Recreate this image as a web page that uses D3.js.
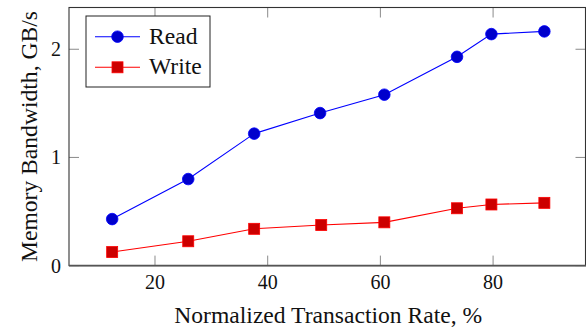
<!DOCTYPE html>
<html>
<head>
<meta charset="utf-8">
<script src="https://cdn.jsdelivr.net/npm/d3@7"></script>
<style>
  html, body { margin: 0; padding: 0; background: #fff; }
  svg { display: block; }
</style>
</head>
<body>
<svg id="chart" width="586" height="333" font-family="Liberation Serif"></svg>
<script>
// Transaction rate (% of max) and measured bandwidth (GB/s)
const rate = [12.4, 25.9, 37.6, 49.3, 60.7, 73.6, 79.7, 89.1];
const readBW = [0.43, 0.80, 1.22, 1.41, 1.58, 1.93, 2.14, 2.165];
const writeRate = [12.4, 25.9, 37.6, 49.5, 60.7, 73.6, 79.7, 89.1];
const writeBW = [0.125, 0.225, 0.34, 0.375, 0.40, 0.53, 0.565, 0.58];
const xTicks = [20, 40, 60, 80];
const yTicks = [0, 1, 2];
const seriesNames = ["Read", "Write"];

const FONT = "Liberation Serif";
const svg = d3.select("#chart");
const box = { left: 69, right: 585.5, top: 7.5, bottom: 265.6 };

const x = d3.scaleLinear().domain([4.74, 96.4]).range([box.left, box.right]);
const y = d3.scaleLinear().domain([0, 2.386]).range([box.bottom, box.top]);

const tickLen = 10;
const tickColor = "#8a8a8a";

// Inward ticks on all four sides
const g = svg.append("g");
xTicks.forEach(t => {
  g.append("line").attr("x1", x(t)).attr("x2", x(t))
    .attr("y1", box.bottom).attr("y2", box.bottom - tickLen)
    .attr("stroke", tickColor).attr("stroke-width", 1);
  g.append("line").attr("x1", x(t)).attr("x2", x(t))
    .attr("y1", box.top).attr("y2", box.top + tickLen)
    .attr("stroke", tickColor).attr("stroke-width", 1);
});
yTicks.forEach(t => {
  g.append("line").attr("x1", box.left).attr("x2", box.left + tickLen)
    .attr("y1", y(t)).attr("y2", y(t))
    .attr("stroke", tickColor).attr("stroke-width", 1);
  g.append("line").attr("x1", box.right - tickLen).attr("x2", box.right)
    .attr("y1", y(t)).attr("y2", y(t))
    .attr("stroke", tickColor).attr("stroke-width", 1);
});

// Frame
g.append("rect")
  .attr("x", box.left).attr("y", box.top)
  .attr("width", box.right - box.left).attr("height", box.bottom - box.top)
  .attr("fill", "none").attr("stroke", "#333").attr("stroke-width", 1.1);
g.append("line")
  .attr("x1", box.left).attr("x2", box.right + 1)
  .attr("y1", box.bottom).attr("y2", box.bottom)
  .attr("stroke", "#555").attr("stroke-width", 1.8);

// Tick labels
xTicks.forEach(t => {
  svg.append("text").attr("x", x(t)).attr("y", 288.7)
    .attr("font-family", FONT).attr("fill", "#111")
    .attr("text-anchor", "middle").attr("font-size", 20).text(t);
});
yTicks.forEach(t => {
  svg.append("text").attr("x", 61).attr("y", y(t) + 7)
    .attr("font-family", FONT).attr("fill", "#111")
    .attr("text-anchor", "end").attr("font-size", 20).text(t);
});

// Axis titles
svg.append("text").attr("x", (box.left + box.right) / 2 + 1).attr("y", 323)
  .attr("font-family", FONT).attr("fill", "#111")
  .attr("text-anchor", "middle").attr("font-size", 23.6)
  .text("Normalized Transaction Rate, %");
svg.append("text")
  .attr("transform", `translate(36.5, ${(box.top + box.bottom) / 2}) rotate(-90)`)
  .attr("font-family", FONT).attr("fill", "#111")
  .attr("text-anchor", "middle").attr("font-size", 23.6)
  .text("Memory Bandwidth, GB/s");

// Series
const line = d3.line().x(d => x(d[0])).y(d => y(d[1]));
const readPts = rate.map((r, i) => [r, readBW[i]]);
const writePts = writeRate.map((r, i) => [r, writeBW[i]]);

svg.append("path").datum(readPts).attr("d", line)
  .attr("fill", "none").attr("stroke", "#0000ff").attr("stroke-width", 1.1);
svg.append("path").datum(writePts).attr("d", line)
  .attr("fill", "none").attr("stroke", "#ff0000").attr("stroke-width", 1.1);

svg.append("g").selectAll("circle").data(readPts).join("circle")
  .attr("cx", d => x(d[0])).attr("cy", d => y(d[1])).attr("r", 5.8)
  .attr("fill", "#0000cc").attr("stroke", "#0000ff").attr("stroke-width", 0.8);

const sq = 11;
svg.append("g").selectAll("rect").data(writePts).join("rect")
  .attr("x", d => x(d[0]) - sq / 2).attr("y", d => y(d[1]) - sq / 2)
  .attr("width", sq).attr("height", sq)
  .attr("fill", "#cc0000").attr("stroke", "#ff0000").attr("stroke-width", 0.8);

// Legend
const lg = svg.append("g");
lg.append("rect").attr("x", 86).attr("y", 16).attr("width", 124).attr("height", 71)
  .attr("fill", "#fff").attr("stroke", "#222").attr("stroke-width", 1);
const rowY = [36.7, 67.3];
lg.append("line").attr("x1", 95).attr("x2", 140).attr("y1", rowY[0]).attr("y2", rowY[0])
  .attr("stroke", "#0000ff").attr("stroke-width", 1.1);
lg.append("circle").attr("cx", 117.5).attr("cy", rowY[0]).attr("r", 5.8)
  .attr("fill", "#0000cc").attr("stroke", "#0000ff").attr("stroke-width", 0.8);
lg.append("line").attr("x1", 95).attr("x2", 140).attr("y1", rowY[1]).attr("y2", rowY[1])
  .attr("stroke", "#ff0000").attr("stroke-width", 1.1);
lg.append("rect").attr("x", 117.5 - sq / 2).attr("y", rowY[1] - sq / 2)
  .attr("width", sq).attr("height", sq)
  .attr("fill", "#cc0000").attr("stroke", "#ff0000").attr("stroke-width", 0.8);
seriesNames.forEach((n, i) => {
  lg.append("text").attr("x", 149).attr("y", rowY[i] + 6.8)
    .attr("font-family", FONT).attr("fill", "#111")
    .attr("font-size", 23.6).text(n);
});
</script>
</body>
</html>
